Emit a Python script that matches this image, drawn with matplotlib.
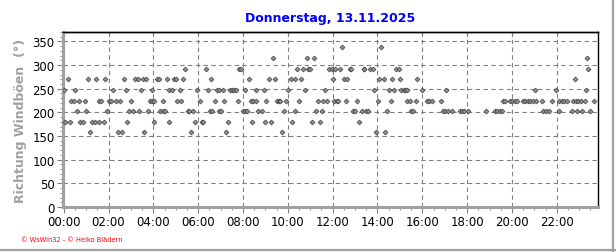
"""Richtung Windböen - Tagesverlauf (WsWin32 style)."""

import matplotlib
matplotlib.use("Agg")
import matplotlib.pyplot as plt
from matplotlib.lines import Line2D
from matplotlib.ticker import FixedLocator, MultipleLocator, NullFormatter

TITLE = "Donnerstag, 13.11.2025"
Y_LABEL = "Richtung Windböen  (°)"
FOOTER = "© WsWin32 - © Heiko Blädern"

# times (hours of day) at which the gust came from each compass direction
t_157 = [1.19, 2.44, 2.62, 3.57, 5.68, 7.26, 9.75, 13.93, 14.34]
t_180 = [0.08, 0.30, 0.75, 0.86, 1.26, 1.38, 1.58, 1.79, 2.83, 4.02, 4.69,
         5.86, 6.15, 6.22, 7.33, 8.39, 8.99, 9.25, 10.19, 11.08, 11.43, 13.18]
t_202 = [0.59, 1.01, 1.93, 2.90, 3.08, 3.38, 3.75, 4.30, 4.42, 4.52, 5.54,
         5.61, 5.79, 6.52, 6.61, 6.91, 7.01, 7.98, 8.09, 8.20, 8.65, 8.84,
         9.85, 10.31, 11.24, 11.53, 12.89, 12.98, 13.30, 13.48, 13.57, 14.42,
         15.49, 15.59, 16.91, 17.01, 17.13, 17.31, 17.68, 17.78, 17.87, 18.02,
         18.85, 19.23, 19.34, 19.45, 19.55, 21.40, 21.50, 21.67, 22.11, 22.66,
         22.89, 23.11, 23.48]
t_225 = [0.34, 0.45, 0.68, 0.97, 1.58, 1.68, 2.02, 2.13, 2.35, 2.53, 3.00,
         3.83, 3.93, 4.05, 4.42, 5.06, 5.24, 6.07, 6.75, 7.16, 7.78, 8.35,
         8.45, 8.57, 9.03, 9.52, 9.60, 9.67, 9.94, 10.49, 11.35, 11.58, 11.75,
         12.08, 12.19, 12.26, 12.60, 13.08, 14.02, 14.61, 15.33, 15.45, 15.70,
         16.19, 16.31, 16.44, 16.83, 19.60, 19.69, 19.90, 20.00, 20.12, 20.22,
         20.49, 20.59, 20.71, 20.82, 20.92, 21.07, 21.33, 21.77, 22.11, 22.22,
         22.32, 22.44, 22.71, 22.84, 22.96, 23.07, 23.26, 23.67]
t_247 = [0.00, 0.52, 2.20, 2.80, 3.45, 3.94, 4.72, 4.83, 5.19, 5.95, 6.44,
         6.83, 6.93, 7.11, 7.41, 7.50, 7.60, 7.71, 8.08, 8.57, 8.94, 10.01,
         10.76, 11.68, 13.85, 14.52, 14.72, 15.06, 15.18, 15.25, 15.33, 16.00,
         17.04, 21.01, 21.96, 23.29]
t_270 = [0.19, 1.08, 1.46, 1.83, 2.69, 3.18, 3.30, 3.53, 3.67, 4.17, 4.27,
         4.61, 4.91, 5.03, 5.34, 6.56, 8.27, 9.15, 9.45, 10.12, 10.30, 10.59,
         12.02, 12.49, 12.63, 14.09, 14.27, 14.64, 15.01, 15.77, 22.81]
t_292 = [5.42, 6.34, 7.80, 7.90, 10.42, 10.68, 10.89, 10.97, 11.83, 11.98,
         12.11, 12.33, 12.78, 12.83, 13.38, 13.42, 13.67, 13.78, 14.82, 14.94,
         23.41]
t_315 = [9.34, 10.86, 11.16, 23.36]
t_337 = [12.41, 14.17]

directions = [157.5, 180.0, 202.5, 225.0, 247.5, 270.0, 292.5, 315.0, 337.5]
time_lists = [t_157, t_180, t_202, t_225, t_247, t_270, t_292, t_315, t_337]

hour_ticks = list(range(0, 24, 2))
hour_labels = [f"{h:02d}:00" for h in hour_ticks]

fig = plt.figure(figsize=(6.16, 2.53), dpi=100)
ax = fig.add_axes([0.1023, 0.178, 0.8685, 0.6918])

for deg, times in zip(directions, time_lists):
    ax.plot(times, [deg] * len(times), linestyle="none", marker="D",
            markersize=2.5, markerfacecolor="#909090",
            markeredgecolor="#404040", markeredgewidth=0.5, zorder=3)

ax.set_xlim(-0.03, 23.84)
ax.set_ylim(0, 370)

ax.xaxis.set_major_locator(FixedLocator(hour_ticks))
ax.set_xticklabels(hour_labels)
ax.xaxis.set_minor_locator(MultipleLocator(0.5))
ax.yaxis.set_major_locator(FixedLocator(range(0, 351, 50)))
ax.yaxis.set_minor_locator(MultipleLocator(10))

ax.grid(True, which="major", color="#808080", linestyle=(0, (4, 3)),
        linewidth=0.8)
ax.tick_params(which="both", direction="out", color="#808080",
               labelsize=8.5, labelcolor="black")
ax.tick_params(which="major", length=4, width=0.8, pad=2)
ax.tick_params(which="minor", length=2, width=0.6)

# short inward ticks along the top border
top = ax.secondary_xaxis("top")
top.xaxis.set_major_locator(FixedLocator(hour_ticks))
top.xaxis.set_major_formatter(NullFormatter())
top.tick_params(direction="in", length=3, width=0.8, color="#404040")
top.spines["top"].set_color("black")
top.spines["top"].set_linewidth(1.0)

for side in ("left", "bottom"):
    ax.spines[side].set_color("#a0a0a0")
    ax.spines[side].set_linewidth(2.2)
for side in ("top", "right"):
    ax.spines[side].set_color("black")
    ax.spines[side].set_linewidth(1.0)

ax.set_title(TITLE, color="#0000ff", fontweight="bold", fontsize=9, pad=8)
ax.set_ylabel(Y_LABEL, color="#a0a0a0", fontweight="bold", fontsize=9,
              labelpad=4)

fig.text(0.034, 0.045, FOOTER, color="red", fontsize=4.8)

# frame lines at the right and bottom edge of the picture
fig.add_artist(Line2D([0.995, 0.995], [0.0, 1.0], color="#a0a0a0",
                      linewidth=1.6, transform=fig.transFigure))
fig.add_artist(Line2D([0.0, 1.0], [0.006, 0.006], color="#a0a0a0",
                      linewidth=1.6, transform=fig.transFigure))

fig.savefig("out.png", dpi=100)
plt.close(fig)
